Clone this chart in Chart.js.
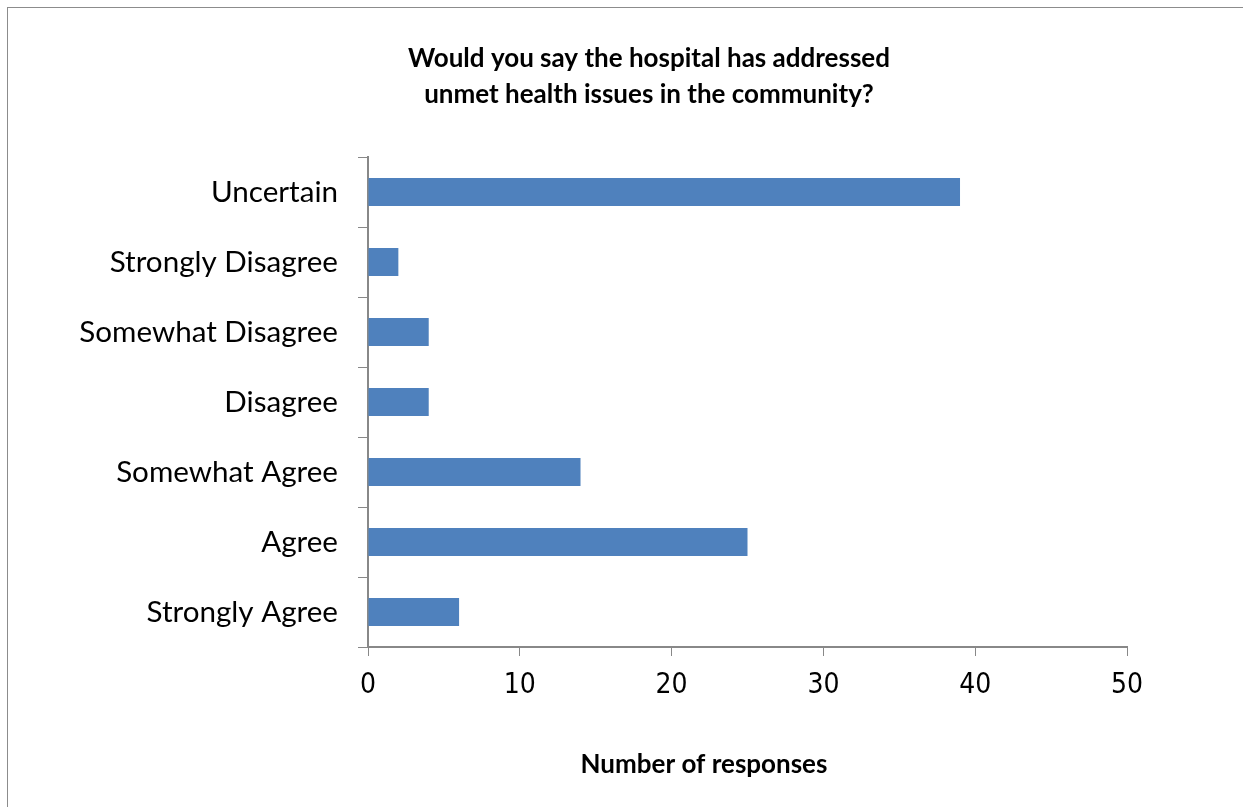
<!DOCTYPE html>
<html>
<head>
<meta charset="utf-8">
<title>Hospital survey</title>
<script src="https://cdn.jsdelivr.net/npm/chart.js@4"></script>
<style>
  html, body { margin: 0; padding: 0; background: #fff; overflow: hidden; }
  #wrap { position: relative; width: 1243px; height: 807px; }
  #frame { position: absolute; left: 7px; top: 7px; width: 1300px; height: 900px; border: 1px solid #8c8c8c; }
  #myChart { position: absolute; left: 0; top: 0; }
</style>
</head>
<body>
<div id="wrap">
  <div id="frame"></div>
  <canvas id="myChart" width="1243" height="807"></canvas>
</div>
<script>
const respuestas = ['Uncertain', 'Strongly Disagree', 'Somewhat Disagree', 'Disagree', 'Somewhat Agree', 'Agree', 'Strongly Agree'];
const conteo = [39, 2, 4, 4, 14, 25, 6];
const tituloLineas = ['Would you say the hospital has addressed', 'unmet health issues in the community?'];
const tituloEje = 'Number of responses';
const ejeMin = 0;
const ejeMax = 50;
const ejePaso = 10;

const fuenteTexto = 'Lato, "Open Sans", sans-serif';
const fuenteNum = '"Liberation Sans Narrow", "DejaVu Sans Condensed", "Liberation Sans", sans-serif';

// titulo y titulo del eje x van a mano: ninguno queda centrado sobre el area del grafico
const textosPlugin = {
    id: 'textos',
    afterDraw(chart) {
        const ctx = chart.ctx;
        ctx.save();
        ctx.fillStyle = '#000';
        ctx.textAlign = 'center';
        ctx.textBaseline = 'middle';
        ctx.font = 'bold 26px ' + fuenteTexto;
        ctx.fillText(tituloLineas[0], 649, 59);
        ctx.fillText(tituloLineas[1], 649, 95);
        ctx.fillText(tituloEje, 704, 765);
        ctx.restore();
    }
};

const config = {
    type: 'bar',
    data: {
        labels: respuestas,
        datasets: [{
            data: conteo,
            backgroundColor: '#4f81bd',
            borderWidth: 0,
            categoryPercentage: 1,
            barPercentage: 0.4
        }]
    },
    options: {
        indexAxis: 'y',
        responsive: false,
        animation: false,
        layout: {
            padding: { left: 40, right: 116, top: 157, bottom: 0 }
        },
        plugins: {
            legend: { display: false },
            tooltip: { enabled: false },
            title: { display: false }
        },
        scales: {
            x: {
                min: ejeMin,
                max: ejeMax,
                afterFit(scale) { scale.height = 160; },
                ticks: {
                    stepSize: ejePaso,
                    color: '#000',
                    padding: 13,
                    font: { family: fuenteNum, size: 28 }
                },
                grid: {
                    drawOnChartArea: false,
                    drawTicks: true,
                    tickLength: 9,
                    color: '#888'
                },
                border: { color: '#888', width: 2 }
            },
            y: {
                afterFit(scale) { scale.width = 368 - 40; },
                ticks: {
                    color: '#000',
                    padding: 20,
                    font: { family: fuenteTexto, size: 29.6 }
                },
                grid: {
                    offset: true,
                    drawOnChartArea: false,
                    drawTicks: true,
                    tickLength: 10,
                    color: '#888'
                },
                border: { color: '#888', width: 2 }
            }
        }
    },
    plugins: [textosPlugin]
};

const myChart = new Chart(document.getElementById('myChart'), config);
</script>
</body>
</html>
